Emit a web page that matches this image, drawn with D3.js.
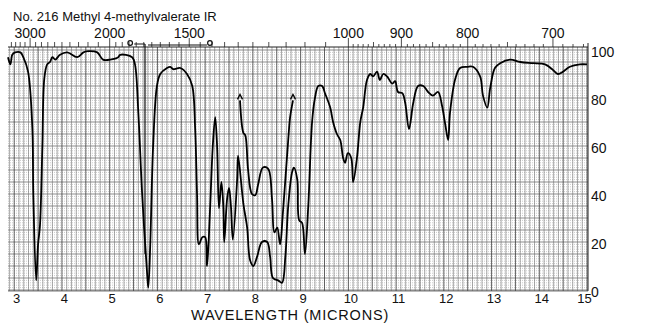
<!DOCTYPE html>
<html><head><meta charset="utf-8">
<script src="https://cdn.jsdelivr.net/npm/d3@7/dist/d3.min.js"></script>
<style>
body{margin:0;background:#fff}
svg{display:block}
text{font-family:'Liberation Sans',Arial,sans-serif;fill:#111}
</style>
</head><body>
<svg id="chart" width="650" height="324"></svg>
<script>
const title = "No. 216 Methyl 4-methylvalerate IR";
const xAxisTitle = "WAVELENGTH (MICRONS)";

// main trace (wavelength in microns, % transmittance)
const wavelength = [2.87,2.92,2.96,3.02,3.13,3.19,3.29,3.38,3.40,3.46,3.50,3.54,3.59,3.63,3.69,3.75,3.80,3.86,3.96,4.11,4.32,4.45,4.55,4.74,4.86,5.01,5.18,5.22,5.47,5.53,5.60,5.68,5.79,5.81,5.85,5.91,5.99,6.06,6.20,6.27,6.33,6.48,6.62,6.73,6.79,6.83,6.87,6.94,7.00,7.04,7.10,7.16,7.21,7.25,7.29,7.34,7.38,7.40,7.46,7.50,7.54,7.58,7.67,7.69,7.80,7.88,7.94,8.01,8.09,8.19,8.30,8.36,8.42,8.53,8.61,8.68,8.74,8.82,8.86,8.93,8.97,9.03,9.09,9.16,9.24,9.30,9.37,9.45,9.51,9.62,9.68,9.76,9.83,9.89,9.93,9.99,10.06,10.10,10.18,10.25,10.31,10.39,10.46,10.52,10.60,10.66,10.73,10.81,10.92,10.98,11.04,11.13,11.19,11.27,11.36,11.46,11.57,11.67,11.77,11.88,11.96,12.03,12.09,12.13,12.24,12.34,12.49,12.61,12.76,12.82,12.91,12.97,13.07,13.18,13.39,13.60,13.87,14.12,14.27,14.39,14.50,14.64,14.85,15.00];
const transmittance = [97,94,98,99,99,97,91,67.5,40,4,19,27,60,88,94,95,97,96,98,99,97,99,99.5,99,96,96,97,98,97,94,74,40,5,1,19,60,85,90,92.5,93,92,92.5,90,85,67.5,40,19,22,22,10,32.5,60,72,60,34,45,35,20,38,42.5,35,21,46,56,36,26,12.5,10,14,20,20,14,5,4,3,14,35,49,51,46,29,28,15,35,70,80,85,85,82,76,70,65,62.5,55,53,57,55,45,55,70,76,87.5,90,89,91,87.5,90,89,86,87,82.5,82,78,67,78,85,85,82.5,81,82.5,77,69,62.5,74,88,92.5,93,93,89,81,76,84,92.5,94.5,96,95,94.5,94,92,90,91,93,94,94];

// second (thinner sample) trace over 7.7 - 8.9 microns
const wavelength2 = [7.73,7.80,7.84,7.90,7.98,8.05,8.11,8.21,8.32,8.40,8.45,8.51,8.57,8.63,8.74,8.78,8.84];
const transmittance2 = [79,65.5,64.5,50,40,39.5,44,51,50.5,38,24,26,19,32.5,62.5,72,79];

const micronTicks = [3,4,5,6,7,8,9,10,11,12,13,14,15];
const percentTicks = [0,20,40,60,80,100];
const wavenumberLabels = [3000,2000,1500,1000,900,800,700];
const wavenumberMinor = [3400,3300,3200,3100,3000,2900,2800,2700,2600,2500,2400,2300,2200,2100,2000,1950,1900,1850,1800,1750,1700,1650,1600,1550,1500,1450,1400,1350,1300,1250,1200,1150,1100,1050,1000,990,980,970,960,950,940,930,920,910,900,890,880,870,860,850,840,830,820,810,800,790,780,770,760,750,740,730,720,710,700,690,680,670];
// pen-change marker bracket (microns) and marker line
const bracketMarks = [5.43, 7.10];
const markerLine = 5.74;

const svg = d3.select('#chart');
const x = d3.scaleLinear().domain([2.87, 15.02]).range([8, 588]);
const y = d3.scaleLinear().domain([0, 100]).range([290, 50]);
const gridTop = y(101.25), gridBottom = y(-0.4);

// grid
const g = svg.append('g');
const hMinor = d3.range(0, 101, 1).filter(v => v % 5 !== 0);
g.selectAll('.hm').data(hMinor).join('line')
  .attr('x1', x(2.87)).attr('x2', x(15.02))
  .attr('y1', d => y(d)).attr('y2', d => y(d))
  .attr('stroke', '#a8a8a8').attr('stroke-width', 0.6).attr('stroke-dasharray', '1,1');
const hMajor = d3.range(0, 101, 5);
g.selectAll('.hM').data(hMajor).join('line')
  .attr('x1', x(2.87)).attr('x2', x(15.02))
  .attr('y1', d => y(d)).attr('y2', d => y(d))
  .attr('stroke', '#5a5a5a').attr('stroke-width', 0.7);
const vLines = d3.range(29, 151, 1).map(d => d / 10);
g.selectAll('.v').data(vLines).join('line')
  .attr('x1', d => x(d)).attr('x2', d => x(d))
  .attr('y1', gridTop).attr('y2', gridBottom)
  .attr('stroke', d => (Math.round(d * 10) % 5 === 0) ? '#3a3a3a' : '#707070')
  .attr('stroke-width', d => (Math.round(d * 10) % 5 === 0) ? 0.8 : 0.6);

// borders
svg.append('line').attr('x1', x(2.87)).attr('x2', x(15.02)).attr('y1', gridTop).attr('y2', gridTop).attr('stroke', '#222').attr('stroke-width', 1);
svg.append('line').attr('x1', x(15.02)).attr('x2', x(15.02)).attr('y1', gridTop - 4).attr('y2', gridBottom).attr('stroke', '#222').attr('stroke-width', 1);
svg.append('line').attr('x1', x(2.87)).attr('x2', x(15.02)).attr('y1', gridBottom).attr('y2', gridBottom).attr('stroke', '#444').attr('stroke-width', 0.8);

// top wavenumber ticks
svg.append('g').selectAll('line').data(wavenumberMinor).join('line')
  .attr('x1', d => x(1e4 / d)).attr('x2', d => x(1e4 / d))
  .attr('y1', gridTop).attr('y2', d => wavenumberLabels.includes(d) ? gridTop - 9 : (d % 50 === 0 ? gridTop - 5 : gridTop - 3))
  .attr('stroke', '#222').attr('stroke-width', 0.8);
svg.append('g').selectAll('text').data(wavenumberLabels).join('text')
  .attr('x', d => x(1e4 / d)).attr('y', 38)
  .attr('text-anchor', 'middle').attr('font-size', 14).text(d => d);

// bracket markers
const by = gridTop - 3;
svg.append('line').attr('x1', x(bracketMarks[0]) + 4).attr('x2', x(markerLine)).attr('y1', by).attr('y2', by).attr('stroke', '#111').attr('stroke-width', 1);
svg.append('line').attr('x1', x(markerLine) + 3).attr('x2', x(bracketMarks[1]) - 3).attr('y1', by + 1).attr('y2', by + 1).attr('stroke', '#111').attr('stroke-width', 1);
svg.append('line').attr('x1', x(markerLine)).attr('x2', x(markerLine)).attr('y1', by).attr('y2', y(15)).attr('stroke', '#111').attr('stroke-width', 1.2);
svg.selectAll('.bm').data(bracketMarks).join('circle')
  .attr('cx', d => x(d)).attr('cy', by - 1).attr('r', 2.3)
  .attr('fill', 'none').attr('stroke', '#111').attr('stroke-width', 1.2);

// bottom micron labels
const xAxis = d3.axisBottom(x).tickValues(micronTicks).tickSize(0).tickPadding(0).tickFormat(d3.format('d'));
const xa = svg.append('g').attr('transform', `translate(2,0)`).call(xAxis);
xa.select('.domain').remove();
xa.selectAll('text').attr('font-size', 13).attr('y', 303).attr('dy', 0).attr('fill', '#111')
  .attr('dx', d => d === 15 ? -5 : 0)
  .style('font-family', "'Liberation Sans',Arial,sans-serif");

// right percent labels
const yAxis = d3.axisRight(y).tickValues(percentTicks).tickSize(0).tickPadding(3);
const ya = svg.append('g').attr('transform', `translate(${x(15.02)},2)`).call(yAxis);
ya.select('.domain').remove();
ya.selectAll('text').attr('font-size', 14).attr('fill', '#111').style('font-family', "'Liberation Sans',Arial,sans-serif");

// spectrum traces
const line = d3.line().x(d => x(d[0])).y(d => y(d[1])).curve(d3.curveCatmullRom.alpha(0.5));
svg.append('path').datum(d3.zip(wavelength, transmittance))
  .attr('d', line).attr('fill', 'none').attr('stroke', '#000').attr('stroke-width', 1.8).attr('stroke-linejoin', 'round');
svg.append('path').datum(d3.zip(wavelength2, transmittance2))
  .attr('d', line).attr('fill', 'none').attr('stroke', '#000').attr('stroke-width', 1.8).attr('stroke-linejoin', 'round');
// pen start/stop carets for the second trace
const ends = [[wavelength2[0], transmittance2[0]], [wavelength2[wavelength2.length - 1], transmittance2[transmittance2.length - 1]]];
svg.selectAll('.caret').data(ends).join('path')
  .attr('d', d => `M${x(d[0]) - 2.5},${y(d[1]) - 1} L${x(d[0])},${y(d[1]) - 6} L${x(d[0]) + 2.5},${y(d[1]) - 1}`)
  .attr('fill', 'none').attr('stroke', '#000').attr('stroke-width', 1.3);

// titles
svg.append('text').attr('x', 13).attr('y', 21).attr('font-size', 13).text(title);
svg.append('text').attr('x', 290).attr('y', 320).attr('text-anchor', 'middle')
  .attr('font-size', 14.5).attr('letter-spacing', 0.8).text(xAxisTitle);
</script>
</body></html>
